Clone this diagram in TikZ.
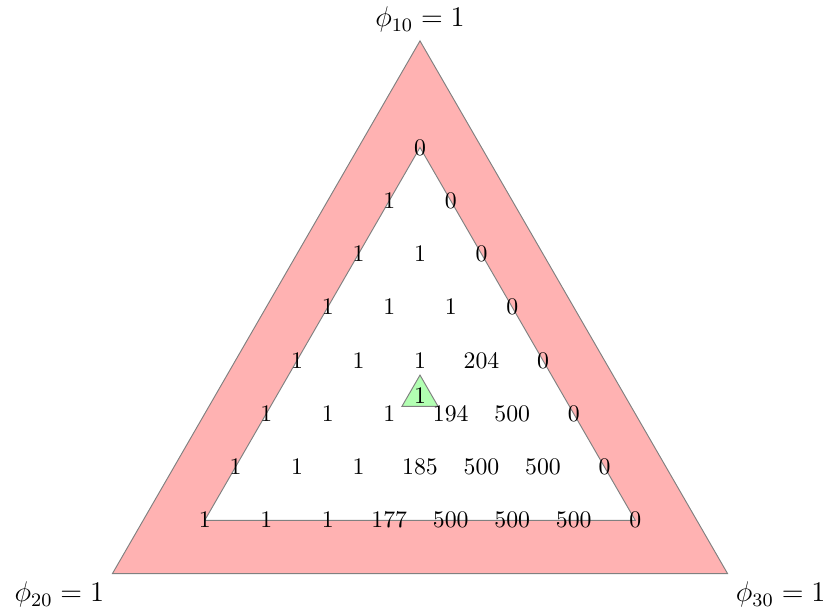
\documentclass[tikz,border=0pt]{standalone}
\begin{document}
\begin{tikzpicture}[x=0.91cm, y=0.91cm]
\useasboundingbox (-6.829,-3.528) rectangle (6.634,6.439);
\coordinate (top) at (90:5.774);
\coordinate (left) at (210:5.774);
\coordinate (right) at (330:5.774);
\draw[gray, fill=red!30] (top) -- (left) -- (right) -- cycle;
\draw[gray, fill=white] (90:4.0415) -- (210:4.0415) -- (330:4.0415) -- cycle;
\draw[gray, fill=green!30] (90:0.34) -- (210:0.34) -- (330:0.34) -- cycle;
\node (c) at (0,0) {$1$};
\foreach \row [count=\k from 0] in {{0},{1,0},{1,1,0},{1,1,1,0},{1,1,1,204,0},
    {1,1,1,194,500,0},{1,1,1,185,500,500,0},{1,1,1,177,500,500,500,0}}
  \foreach \val [count=\j from 0] in \row
    \node (v\k\j) at ({\j-\k/2}, {4.0415-0.866*\k}) {$\val$};
\node[above, font=\large] (l1) at (top) {$\phi_{10}=1$};
\node[below left, font=\large] (l2) at (left) {$\phi_{20}=1$};
\node[below right, font=\large] (l3) at (right) {$\phi_{30}=1$};
\end{tikzpicture}
\end{document}
